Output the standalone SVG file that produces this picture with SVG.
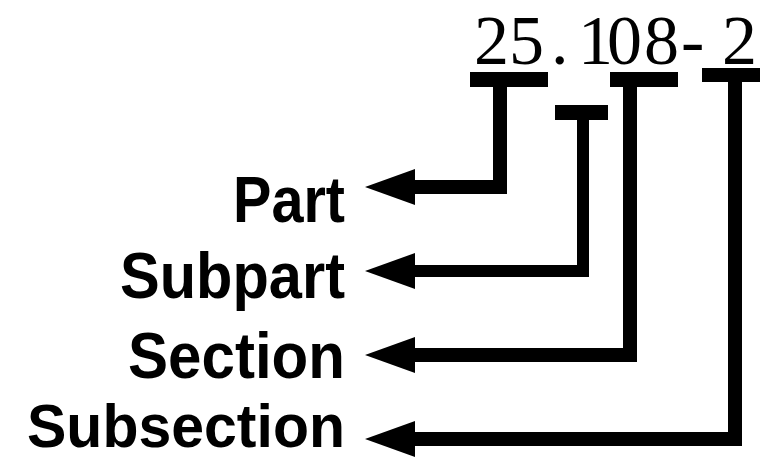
<svg xmlns="http://www.w3.org/2000/svg" width="760" height="460" viewBox="0 0 760 460">
<style>
.lbl{font-family:"Liberation Sans","Noto Sans",sans-serif;font-weight:bold;font-size:65px;fill:#000}
.num{font-family:"Liberation Serif","DejaVu Serif",serif;font-size:70px;fill:#000}
.ln{fill:none;stroke:#000;stroke-width:14;stroke-linejoin:miter;marker-end:url(#ah)}
.bar{fill:#000}
</style>
<defs>
<marker id="ah" markerUnits="userSpaceOnUse" viewBox="0 0 50 36" markerWidth="50" markerHeight="36" refX="15" refY="18" orient="auto">
<polygon points="0,0 50,18 0,36" fill="#000"/>
</marker>
</defs>
<rect width="760" height="460" fill="#fff"/>
<g id="number">
<text class="num" x="474 509 551 578 607 644 681 722" y="64">25.108-2</text>
</g>
<g id="part"><text class="lbl" x="233" y="222" textLength="112" lengthAdjust="spacingAndGlyphs">Part</text></g>
<g id="subpart"><text class="lbl" x="120" y="298" textLength="225" lengthAdjust="spacingAndGlyphs">Subpart</text></g>
<g id="section"><text class="lbl" x="128" y="378" textLength="217" lengthAdjust="spacingAndGlyphs">Section</text></g>
<g id="subsection"><text class="lbl" style="font-size:62px" x="27" y="447" textLength="318" lengthAdjust="spacingAndGlyphs">Subsection</text></g>
<g id="connectors">
<rect class="bar" x="470" y="72" width="78" height="15"/>
<path class="ln" d="M500,80 V187 H400"/>
<rect class="bar" x="555" y="105" width="53" height="15"/>
<path class="ln" style="stroke-width:12" d="M583,112 V271 H400"/>
<rect class="bar" x="610" y="72" width="68" height="15"/>
<path class="ln" d="M630,80 V355 H400"/>
<rect class="bar" x="702" y="68" width="58" height="14"/>
<path class="ln" d="M735,75 V439 H400"/>
</g>
</svg>
